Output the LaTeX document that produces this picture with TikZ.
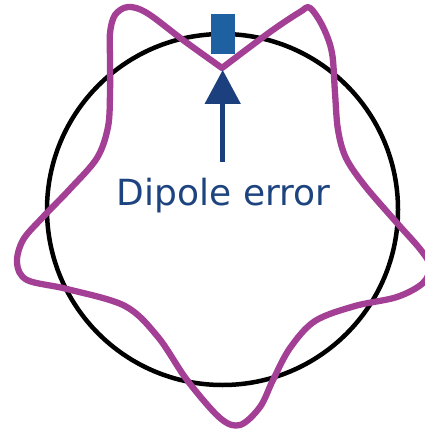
\documentclass[tikz,border=0pt]{standalone}
\usepackage{fontspec}
\setmainfont{DejaVu Sans}
\usetikzlibrary{arrows.meta}

\definecolor{orbitpurple}{RGB}{163,64,150}
\definecolor{kickblue}{RGB}{30,96,160}
\definecolor{arrowblue}{RGB}{28,64,125}
\definecolor{labelblue}{RGB}{30,68,128}

\begin{document}
\begin{tikzpicture}[x=1pt,y=-1pt]
      \useasboundingbox (0,0) rectangle (424,430);

      % Ideal orbit
      \draw[line width=4.5pt] (222.5,209.5) circle[radius=175.5];

      % Dipole magnet
      \fill[kickblue] (211,14) rectangle (235,54);

      % Distorted closed orbit, kink at the dipole
      \draw[orbitpurple, line width=6.3pt, line join=round, line cap=round]
        plot[smooth, tension=0.55] coordinates {
          (222,68) (270,32) (300,12) (310,8) (323,27) (332,53) (335,93)
          (338,130) (346,158) (365,186) (397,223) (420,249)
          (430,266) (423,283) (397,297) (355,306) (315,321)
          (290,348) (273,380) (260,407) (240,425) (220,418) (187,380)
          (158,337) (125,306) (67,289) (27,280) (17,263)
          (23,240) (43,217) (70,189) (97,158) (108,127)
          (110,93) (110,60) (110,33) (115,15) (128,7) (147,13)
          (183,40) (222,68)};

      % Label and arrow
      \node[labelblue, inner sep=0pt, anchor=base,
            font=\fontsize{36}{40}\selectfont] (label) at (223.5,205) {Dipole error};
      \coordinate (tail) at (222.7,162);
      \coordinate (kink) at (222.7,70);
      \draw[arrowblue, line width=5pt, -{Triangle[width=35pt,length=34pt]}] (tail) -- (kink);
\end{tikzpicture}
\end{document}
